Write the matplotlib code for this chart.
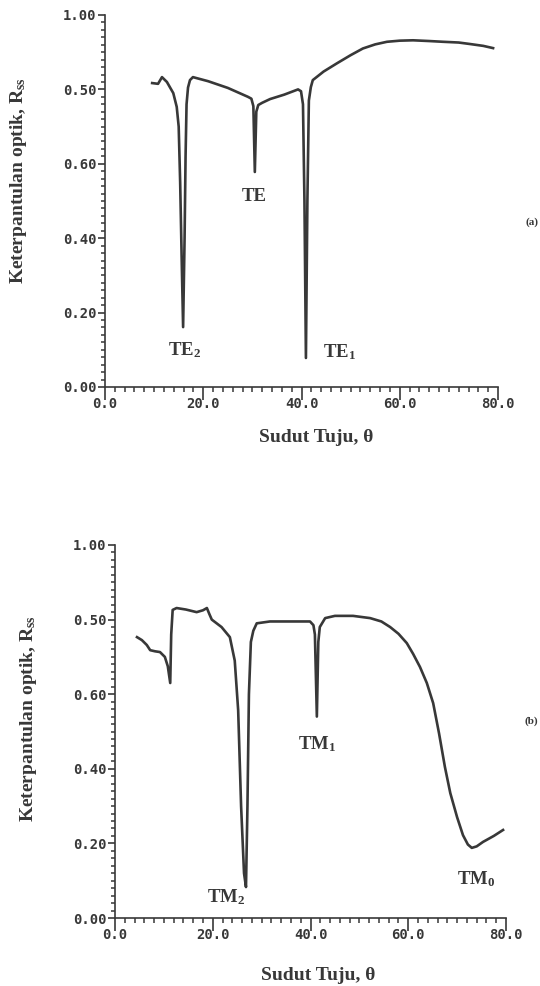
import matplotlib
matplotlib.use("Agg")
import matplotlib.pyplot as plt
from matplotlib.ticker import MultipleLocator, FixedLocator, FixedFormatter

plt.rcParams['mathtext.fontset'] = 'custom'
plt.rcParams['mathtext.rm'] = 'Liberation Serif:bold'
plt.rcParams['mathtext.it'] = 'Liberation Serif:bold'
plt.rcParams['mathtext.bf'] = 'Liberation Serif:bold'

# (a) TE polarisation
te_theta = [9.6, 10.8, 11.6, 12.6, 13.9, 14.6, 15.0, 15.3, 15.6, 15.9, 16.2, 16.4, 16.6, 16.9, 17.3, 17.9,
            21.0, 25.0, 29.1, 29.8, 30.2, 30.5, 30.8, 31.2, 32.0, 33.6, 36.5, 39.3, 39.9, 40.3, 40.6, 40.9,
            41.2, 41.5, 41.9, 42.3, 44.5, 47.2, 50.0, 52.5, 55.0, 57.4, 60.0, 62.7, 66.0, 68.8, 72.0, 74.3,
            77.0, 79.0]
te_r = [0.817, 0.815, 0.833, 0.820, 0.790, 0.753, 0.700, 0.550, 0.350, 0.161, 0.400, 0.620, 0.760, 0.805, 0.825, 0.833,
        0.822, 0.804, 0.780, 0.775, 0.755, 0.578, 0.740, 0.758, 0.764, 0.774, 0.786, 0.800, 0.795, 0.760, 0.500, 0.078,
        0.500, 0.770, 0.806, 0.825, 0.848, 0.870, 0.892, 0.910, 0.921, 0.928, 0.931, 0.932, 0.930, 0.928, 0.926, 0.922,
        0.917, 0.911]

# (b) TM polarisation
tm_theta = [4.5, 5.5, 6.5, 7.2, 8.2, 9.2, 10.2, 10.8, 11.3, 11.5, 11.8, 12.6, 14.5, 16.7, 18.0, 18.8,
            19.3, 19.8, 21.8, 23.5, 24.5, 25.2, 25.8, 26.4, 26.8, 27.1, 27.4, 27.8, 28.3, 29.0, 31.7, 36.0,
            39.9, 40.6, 40.9, 41.3, 41.6, 41.9, 43.0, 45.0, 48.7, 52.2, 54.5, 56.3, 58.0, 59.7, 61.0, 62.4,
            63.8, 65.1, 66.3, 67.5, 68.6, 70.0, 71.2, 72.2, 73.0, 74.0, 75.3, 77.5, 79.4]
tm_r = [0.753, 0.745, 0.732, 0.718, 0.715, 0.713, 0.700, 0.675, 0.630, 0.760, 0.826, 0.831, 0.827, 0.820, 0.825, 0.831,
        0.815, 0.800, 0.780, 0.753, 0.690, 0.557, 0.300, 0.120, 0.083, 0.300, 0.600, 0.740, 0.770, 0.790, 0.795, 0.795,
        0.795, 0.785, 0.760, 0.540, 0.740, 0.780, 0.804, 0.810, 0.810, 0.804, 0.795, 0.780, 0.762, 0.737, 0.708, 0.673,
        0.630, 0.576, 0.495, 0.405, 0.335, 0.270, 0.222, 0.197, 0.188, 0.192, 0.204, 0.220, 0.236]

x_ticks = [0, 20, 40, 60, 80]
x_labels = ['0.0', '20.0', '40.0', '60.0', '80.0']
y_ticks = [0.0, 0.2, 0.4, 0.6, 0.8, 1.0]
y_labels = ['0.00', '0.20', '0.40', '0.60', '0.50', '1.00']

te_notes = ['TE', 'TE$_2$', 'TE$_1$']
te_note_xy = [(30.3, 0.513), (16.1, 0.099), (47.8, 0.094)]
tm_notes = ['TM$_1$', 'TM$_2$', 'TM$_0$']
tm_note_xy = [(41.3, 0.466), (22.7, 0.056), (73.9, 0.105)]

ink = '#383838'
serif = 'Liberation Serif'

fig = plt.figure(figsize=(5.4, 9.86), dpi=100)
ax1 = fig.add_axes([105 / 540, 1 - 387 / 986, 393 / 540, 372 / 986])
ax2 = fig.add_axes([115 / 540, 1 - 918 / 986, 391 / 540, 373 / 986])


def style(ax, xlab_pos, ylab_pos):
    ax.set_xlim(0, 80)
    ax.set_ylim(0, 1)
    ax.spines['top'].set_visible(False)
    ax.spines['right'].set_visible(False)
    for s in ['left', 'bottom']:
        ax.spines[s].set_linewidth(1.2)
        ax.spines[s].set_color(ink)
    ax.xaxis.set_major_locator(FixedLocator(x_ticks))
    ax.xaxis.set_major_formatter(FixedFormatter(x_labels))
    ax.xaxis.set_minor_locator(MultipleLocator(2))
    ax.yaxis.set_major_locator(FixedLocator(y_ticks))
    ax.yaxis.set_major_formatter(FixedFormatter(y_labels))
    ax.yaxis.set_minor_locator(MultipleLocator(0.02))
    ax.tick_params(axis='x', which='major', length=9, width=1.2, pad=-2, color=ink)
    ax.tick_params(axis='x', which='minor', length=3.5, width=1.1, color=ink)
    ax.tick_params(axis='y', which='major', length=5, width=1.2, pad=1, color=ink)
    ax.tick_params(axis='y', which='minor', length=3, width=1.1, color=ink)
    for lab in ax.get_xticklabels() + ax.get_yticklabels():
        lab.set_fontfamily('DejaVu Sans Mono')
        lab.set_fontweight('bold')
        lab.set_fontsize(10)
        lab.set_color(ink)
    ax.set_xlabel('Sudut Tuju, \u03b8', fontfamily=serif, fontweight='bold', fontsize=14, color=ink, va='center')
    ax.xaxis.set_label_coords(*xlab_pos)
    ax.set_ylabel('Keterpantulan optik, R$_{\\mathrm{ss}}$', fontfamily=serif, fontweight='bold',
                  fontsize=14, color=ink, va='center')
    ax.yaxis.set_label_coords(*ylab_pos)


ax1.plot(te_theta, te_r, color=ink, lw=1.9)
ax2.plot(tm_theta, tm_r, color=ink, lw=1.9)
style(ax1, (0.537, -0.137), (-0.221, 0.556))
style(ax2, (0.519, -0.153), (-0.2225, 0.536))

for txt, (x, y) in zip(te_notes, te_note_xy):
    ax1.text(x, y, txt, ha='center', va='center', fontfamily=serif, fontweight='bold', fontsize=13.5, color=ink)
for txt, (x, y) in zip(tm_notes, tm_note_xy):
    ax2.text(x, y, txt, ha='center', va='center', fontfamily=serif, fontweight='bold', fontsize=13.5, color=ink)

fig.text(538 / 540, 1 - 222 / 986, '(a)', ha='right', va='center', fontfamily=serif, fontweight='bold', fontsize=8, color=ink)
fig.text(538 / 540, 1 - 721 / 986, '(b)', ha='right', va='center', fontfamily=serif, fontweight='bold', fontsize=8, color=ink)

fig.savefig('out.png', dpi=100)
